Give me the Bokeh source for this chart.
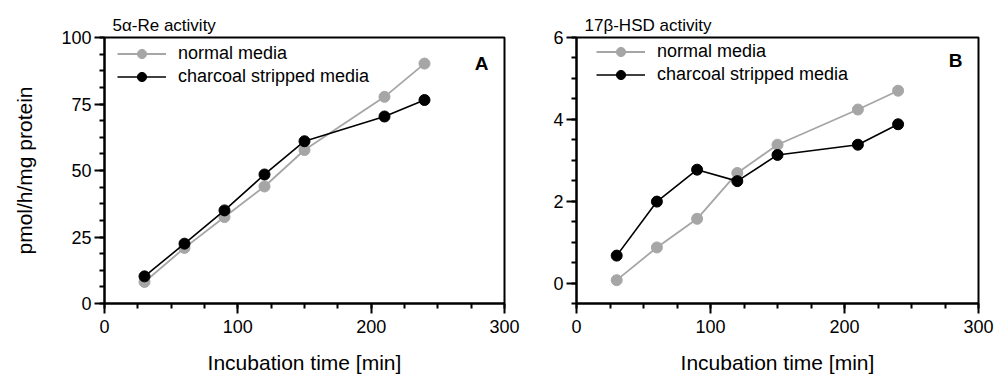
from bokeh.plotting import figure
from bokeh.layouts import row
from bokeh.models import FixedTicker, Range1d, Legend, LegendItem, Label
from bokeh.embed import file_html
from bokeh.resources import INLINE

# ---- data ----
time_min = [30, 60, 90, 120, 150, 210, 240]
a_normal = [8.1, 20.9, 32.5, 44.0, 57.7, 77.7, 90.2]
a_charcoal = [10.2, 22.5, 35.0, 48.5, 61.0, 70.3, 76.5]
b_normal = [0.07, 0.87, 1.57, 2.69, 3.38, 4.24, 4.70]
b_charcoal = [0.67, 1.99, 2.77, 2.49, 3.13, 3.38, 3.88]

series_names = ["normal media", "charcoal stripped media"]
titles = ["5\u03b1-Re activity", "17\u03b2-HSD activity"]
panel_letters = ["A", "B"]
x_label = "Incubation time [min]"
y_label = "pmol/h/mg protein"

x_major = [0, 100, 200, 300]
x_minor = [v for v in range(0, 301, 25)]
a_y_major = [0, 25, 50, 75, 100]
a_y_minor = [i * 6.25 for i in range(17)]
b_y_major = [0, 2, 4, 6]
b_y_minor = [-0.5 + i * 0.5 for i in range(14)]

GRAY = "#a6a6a6"
BLACK = "#000000"
FONT = "Liberation Sans"
H = 378


def make_panel(title, yvals_n, yvals_c, y_range, y_major, y_minor, letter,
               width, left, right, top, frame_h, show_ylabel, legend_xy, letter_xy):
    p = figure(width=width, height=H, output_backend="svg", toolbar_location=None,
               x_range=Range1d(0, 300), y_range=Range1d(*y_range),
               min_border_left=left, min_border_right=right,
               min_border_top=top, min_border_bottom=H - top - frame_h)
    p.title.text = title
    p.title.text_font = FONT
    p.title.text_font_size = "17px"
    p.title.text_font_style = "normal"
    p.title.text_color = "black"
    p.title.align = "left"
    p.title.offset = 8
    p.title.standoff = 6

    p.xgrid.visible = False
    p.ygrid.visible = False
    p.outline_line_color = "black"
    p.outline_line_width = 2
    p.background_fill_color = "white"
    p.border_fill_color = "white"

    for ax in (p.xaxis[0], p.yaxis[0]):
        ax.axis_line_width = 2
        ax.major_tick_line_width = 2
        ax.minor_tick_line_width = 2
        ax.major_tick_in = 0
        ax.minor_tick_in = 0
        ax.major_tick_out = 10
        ax.minor_tick_out = 5
        ax.major_label_text_font = FONT
        ax.major_label_text_font_size = "18px"
        ax.major_label_text_color = "black"
        ax.axis_label_text_font = FONT
        ax.axis_label_text_font_size = "21px"
        ax.axis_label_text_font_style = "normal"
        ax.axis_label_text_color = "black"

    p.xaxis.ticker = FixedTicker(ticks=x_major, minor_ticks=x_minor)
    p.yaxis.ticker = FixedTicker(ticks=y_major, minor_ticks=y_minor)
    p.xaxis.major_label_standoff = 6
    p.yaxis.major_label_standoff = 3
    p.xaxis.axis_label = x_label
    p.xaxis.axis_label_standoff = 15
    if show_ylabel:
        p.yaxis.axis_label = y_label
        p.yaxis.axis_label_standoff = 22

    ln = p.line(time_min, yvals_n, line_color=GRAY, line_width=1.8)
    sn = p.scatter(time_min, yvals_n, size=11, fill_color=GRAY, line_color=GRAY)
    lc = p.line(time_min, yvals_c, line_color=BLACK, line_width=1.6)
    sc = p.scatter(time_min, yvals_c, size=11, fill_color=BLACK, line_color=BLACK)

    legend = Legend(items=[LegendItem(label=series_names[0], renderers=[ln, sn]),
                           LegendItem(label=series_names[1], renderers=[lc, sc])],
                    location=legend_xy, margin=0, padding=0, spacing=0,
                    glyph_width=49, glyph_height=23, label_height=23,
                    label_standoff=12, label_text_font=FONT,
                    label_text_font_size="18px", label_text_color="black",
                    border_line_color=None, background_fill_alpha=0)
    p.add_layout(legend, "center")

    p.add_layout(Label(x=letter_xy[0], y=letter_xy[1], x_units="screen", y_units="screen",
                       text=letter, text_font=FONT, text_font_size="19px",
                       text_font_style="bold", text_align="center",
                       text_baseline="middle", text_color="black"))
    return p


pa = make_panel(titles[0], a_normal, a_charcoal, (0, 100), a_y_major, a_y_minor,
                panel_letters[0], 540, 104, 36, 37, 266, True, (13, 215), (377, 240))
pb = make_panel(titles[1], b_normal, b_charcoal, (-0.5, 6), b_y_major, b_y_minor,
                panel_letters[1], 456, 36, 18, 35, 268, False, (20, 217), (379, 243))

layout = row(pa, pb)
open("out.html", "w").write(file_html(layout, INLINE))
